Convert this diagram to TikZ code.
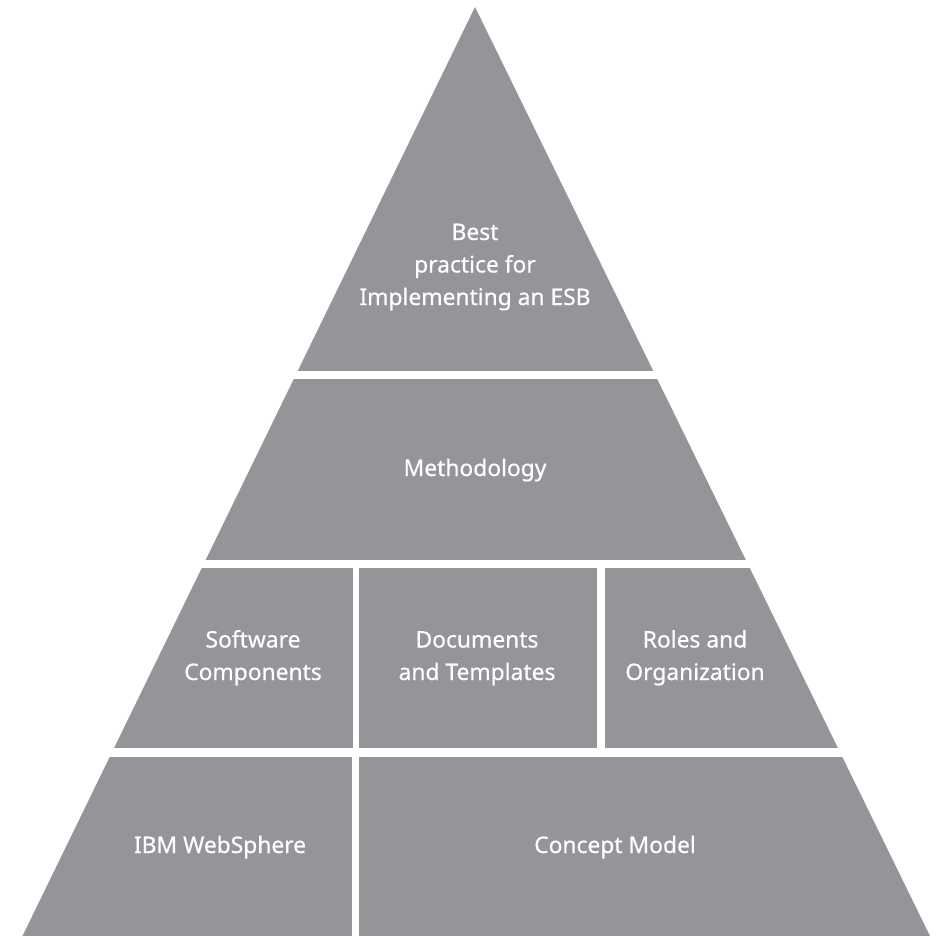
\documentclass[tikz,border=0pt]{standalone}
\usepackage{fontspec}
\setmainfont{Noto Sans}
\newfontfamily\lblfont{Noto Sans}[FakeBold=0.5]
\definecolor{pyr}{RGB}{148,149,153}
\begin{document}
\begin{tikzpicture}[x=1pt,y=-1pt,
  lbl/.style={text=white, font=\lblfont\fontsize{22.8}{32.5}\selectfont, align=center, inner sep=0pt, anchor=base},
  cell/.style={fill=pyr}]
\useasboundingbox (0,0) rectangle (935,936);
\begin{scope}
  \clip (475,7) -- (22.5,936) -- (930,936) -- cycle;
  \fill[cell] (0,0) rectangle (935,370.7);
  \fill[cell] (0,379) rectangle (935,560);
  \fill[cell] (0,568) rectangle (353,748);
  \fill[cell] (359,568) rectangle (597,748);
  \fill[cell] (605,568) rectangle (935,748);
  \fill[cell] (0,757) rectangle (352,936);
  \fill[cell] (359,757) rectangle (935,936);
\end{scope}
\node[lbl] (best) at (475,305) {Best\\practice for\\Implementing an ESB};
\node[lbl] (meth) at (475,476) {Methodology};
\node[lbl] (soft) at (253,680) {Software\\Components};
\node[lbl] (docs) at (477,680) {Documents\\and Templates};
\node[lbl] (roles) at (695,680) {Roles and\\Organization};
\node[lbl] (ibm) at (220,853) {IBM WebSphere};
\node[lbl] (concept) at (615,853) {Concept Model};
\end{tikzpicture}
\end{document}
